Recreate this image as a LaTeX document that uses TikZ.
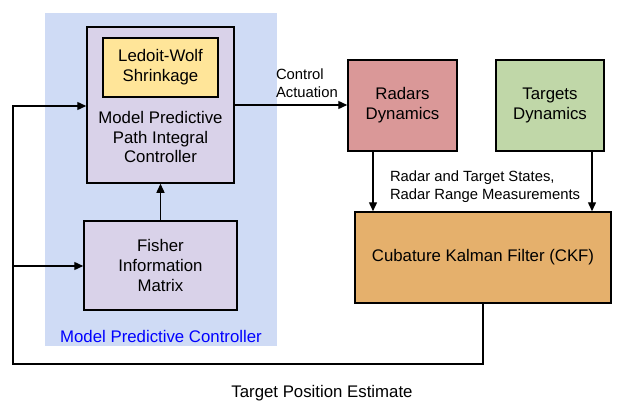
\documentclass[tikz,border=0pt]{standalone}
\usepackage{fontspec}
\setmainfont{Liberation Sans}
\usetikzlibrary{arrows.meta,positioning}

\definecolor{mpcblue}{RGB}{207,219,245}
\definecolor{lavender}{RGB}{217,210,233}
\definecolor{lwyellow}{RGB}{255,229,153}
\definecolor{radarred}{RGB}{218,152,152}
\definecolor{targetgreen}{RGB}{192,215,168}
\definecolor{ckforange}{RGB}{229,176,108}

\begin{document}
\begin{tikzpicture}[x=1pt,y=-1pt,>={Triangle[length=9pt,width=8pt]},
        line width=1.4pt,
        main node/.style={rectangle,draw,line width=1.5pt,inner sep=0pt},
        box text/.style={align=center,font=\fontsize{16.8}{19.8}\selectfont},
        small text/.style={align=left,font=\fontsize{14.8}{18}\selectfont}]
        \useasboundingbox (0,0) rectangle (637,415);
        % controller background
        \fill[mpcblue] (45,13) rectangle (277,346);
        \node[text=blue,font=\fontsize{16.8}{20}\selectfont] (mpc) at (161,336) {Model Predictive Controller};

        \node[main node,fill=lavender,minimum width=147pt,minimum height=156pt] (mppi) at (160.5,105) {};
        \node[main node,fill=lwyellow,minimum width=115pt,minimum height=59pt,box text] (lw) at (160.5,67.5) {Ledoit-Wolf\\Shrinkage};
        \node[box text] (mppitext) at (160.5,137) {Model Predictive\\Path Integral\\Controller};
        \node[main node,fill=lavender,minimum width=153pt,minimum height=89pt,box text] (fim) at (160.5,265.5) {Fisher\\Information\\Matrix};

        \node[main node,fill=radarred,minimum width=109pt,minimum height=91pt,box text] (radar) at (402.5,105.5) {Radars\\Dynamics};
        \node[main node,fill=targetgreen,minimum width=108pt,minimum height=91pt,box text] (target) at (550,105.5) {Targets\\Dynamics};
        \node[main node,fill=ckforange,minimum width=256pt,minimum height=91pt,box text] (ckf) at (483,257.5) {Cubature Kalman Filter (CKF)};

        \node[small text,anchor=west] (act) at (272,83) {Control\\Actuation};
        \node[small text,anchor=west] (meas) at (386,187) {Radar and Target States,\\Radar Range Measurements};
        \node[box text] (tpe) at (322,393) {Target Position Estimate};

        \coordinate (fb) at (483,364);
        \coordinate (fbleft) at (13,364);
        \coordinate (fbtop) at (13,106);
        \coordinate (fbfim) at (13,266);

        \draw[->] (mppi.east |- 0,105) -- (radar.west |- 0,105);
        \draw[->] (fim.north) -- (mppi.south);
        \draw[->] (radar.south -| 373,0) -- (ckf.north -| 373,0);
        \draw[->] (target.south -| 592,0) -- (ckf.north -| 592,0);
        \draw[->] (ckf.south) -- (fb) -- (fbleft) -- (fbtop) -- (mppi.west |- fbtop);
        \draw[->] (fbfim) -- (fim.west |- fbfim);
\end{tikzpicture}
\end{document}
